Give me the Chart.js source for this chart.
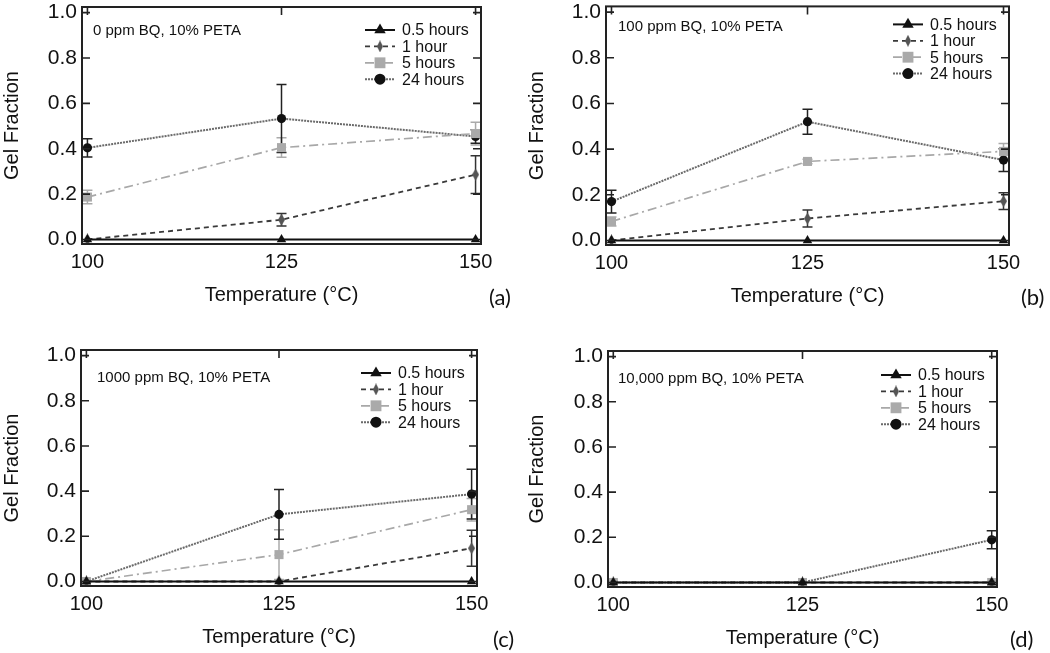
<!DOCTYPE html>
<html>
<head>
<meta charset="utf-8">
<script src="https://cdn.jsdelivr.net/npm/chart.js@4.4.1/dist/chart.umd.min.js"></script>
<style>
  body { margin: 0; background: #fff; width: 1050px; height: 653px; overflow: hidden; position: relative; }
  canvas { position: absolute; }
  .tag { position: absolute; font-family: Lato, 'Open Sans', sans-serif; font-size: 22px; line-height: 1; color: #111; }
</style>
</head>
<body>
<canvas id="pa" width="525" height="345" style="left:0;top:0"></canvas>
<canvas id="pb" width="525" height="345" style="left:525px;top:0"></canvas>
<canvas id="pc" width="525" height="345" style="left:0;top:326px"></canvas>
<canvas id="pd" width="525" height="345" style="left:525px;top:326px"></canvas>
<div class="tag" style="left:489px;top:286px">(a)</div>
<div class="tag" style="left:1021px;top:286px">(b)</div>
<div class="tag" style="left:493px;top:628px">(c)</div>
<div class="tag" style="left:1010px;top:628px">(d)</div>
<script>
// x values and labels
const temps = [100, 125, 150];
const yTicks = [0, 0.2, 0.4, 0.6, 0.8, 1.0];
const seriesNames = ['0.5 hours', '1 hour', '5 hours', '24 hours'];
const notes = ['0 ppm BQ, 10% PETA', '100 ppm BQ, 10% PETA', '1000 ppm BQ, 10% PETA', '10,000 ppm BQ, 10% PETA'];

// (a) 0 ppm BQ
const a05 = [0, 0, 0],             a05Err = [0, 0, 0];
const a1  = [0, 0.087, 0.286],     a1Err  = [0, 0.028, 0.083];
const a5  = [0.187, 0.405, 0.467], a5Err  = [0.03, 0.043, 0.05];
const a24 = [0.404, 0.533, 0.454], a24Err = [0.04, 0.15, 0.03];

// (b) 100 ppm BQ
const b05 = [0, 0, 0],             b05Err = [0, 0, 0];
const b1  = [0, 0.096, 0.172],     b1Err  = [0, 0.037, 0.037];
const b5  = [0.083, 0.346, 0.39],  b5Err  = [0.02, 0.01, 0.035];
const b24 = [0.17, 0.52, 0.352],   b24Err = [0.05, 0.055, 0.05];

// (c) 1000 ppm BQ
const c05 = [0, 0, 0],             c05Err = [0, 0, 0];
const c1  = [0, 0, 0.147],         c1Err  = [0, 0, 0.08];
const c5  = [0, 0.119, 0.318],     c5Err  = [0, 0.11, 0.05];
const c24 = [0, 0.297, 0.387],     c24Err = [0, 0.11, 0.11];

// (d) 10,000 ppm BQ
const d05 = [0, 0, 0],             d05Err = [0, 0, 0];
const d1  = [0, 0, 0],             d1Err  = [0, 0, 0];
const d5  = [0, 0, 0],             d5Err  = [0, 0, 0];
const d24 = [0, 0, 0.189],         d24Err = [0, 0, 0.04];

Chart.defaults.font.family = "'Liberation Sans', Arial, sans-serif";
Chart.defaults.color = '#111';

// narrow diamond marker for the 1 hour series
function makeDiamond(w, h) {
  const c = document.createElement('canvas');
  c.width = w; c.height = h;
  const g = c.getContext('2d');
  g.fillStyle = '#555';
  g.beginPath();
  g.moveTo(w / 2, 0); g.lineTo(w, h / 2); g.lineTo(w / 2, h); g.lineTo(0, h / 2);
  g.closePath(); g.fill();
  return c;
}
const diamond = makeDiamond(7, 12);
const diamondBig = makeDiamond(6, 12);

const styles = [
  { line: '#111', dash: [], width: 2, point: 'triangle', r: 5.5, fill: '#111', err: '#111' },
  { line: '#3a3a3a', dash: [5, 4], width: 1.8, point: diamond, legPoint: diamondBig, r: 5, fill: '#555', err: '#333' },
  { line: '#a8a8a8', dash: [9, 4, 2, 4], width: 1.7, point: 'rect', r: 6.4, fill: '#aaa', err: '#aaa' },
  { line: '#6a6a6a', dash: [2, 1], width: 2, point: 'circle', r: 4.6, fill: '#111', err: '#222' }
];

const errorBars = {
  id: 'errorBars',
  beforeDatasetsDraw(chart) {
    const ctx = chart.ctx, xs = chart.scales.x, ys = chart.scales.y;
    chart.data.datasets.forEach((ds) => {
      ctx.save();
      ctx.strokeStyle = ds.errColor;
      ctx.lineWidth = 1.5;
      ds.data.forEach((p, j) => {
        const e = ds.errors[j];
        if (!e) return;
        const x = xs.getPixelForValue(p.x);
        const y1 = ys.getPixelForValue(p.y + e), y2 = ys.getPixelForValue(p.y - e);
        ctx.beginPath();
        ctx.moveTo(x, y1); ctx.lineTo(x, y2);
        ctx.moveTo(x - 5, y1); ctx.lineTo(x + 5, y1);
        ctx.moveTo(x - 5, y2); ctx.lineTo(x + 5, y2);
        ctx.stroke();
      });
      ctx.restore();
    });
  }
};

const annot = {
  id: 'annot',
  afterDraw(chart, args, opts) {
    const ctx = chart.ctx, a = chart.chartArea, xs = chart.scales.x, ys = chart.scales.y;
    ctx.save();
    // frame
    ctx.strokeStyle = '#222';
    ctx.lineWidth = 2;
    ctx.strokeRect(a.left, a.top, a.right - a.left, a.bottom - a.top);
    // inward ticks
    ctx.beginPath();
    yTicks.forEach(v => {
      const y = ys.getPixelForValue(v);
      ctx.moveTo(a.left, y); ctx.lineTo(a.left + 8, y);
      ctx.moveTo(a.right, y); ctx.lineTo(a.right - 8, y);
    });
    temps.forEach(v => {
      const x = xs.getPixelForValue(v);
      ctx.moveTo(x, a.top); ctx.lineTo(x, a.top + 8);
    });
    ctx.lineWidth = 1.6;
    ctx.stroke();

    // note text
    ctx.fillStyle = '#111';
    ctx.font = "15px 'Liberation Sans', Arial, sans-serif";
    ctx.textBaseline = 'middle';
    ctx.fillText(opts.note, a.left + opts.noteX, a.top + opts.noteY);

    // legend
    ctx.font = "16px 'Liberation Sans', Arial, sans-serif";
    chart.data.datasets.forEach((ds, k) => {
      const y = a.top + opts.legendTop + k * 16.4;
      const x0 = a.right - 116;
      ctx.save();
      ctx.strokeStyle = ds.borderColor;
      ctx.lineWidth = ds.borderWidth;
      ctx.setLineDash(ds.borderDash);
      ctx.beginPath();
      ctx.moveTo(x0, y); ctx.lineTo(x0 + 30, y);
      ctx.stroke();
      ctx.setLineDash([]);
      ctx.fillStyle = ds.pointBackgroundColor;
      const st = styles[k];
      Chart.helpers.drawPoint(ctx, { pointStyle: st.legPoint || st.point, radius: st.r * 1.2, rotation: 0, borderWidth: 0 }, x0 + 15, y);
      ctx.restore();
      ctx.fillText(ds.label, x0 + 37, y + 1);
    });
    ctx.restore();
  }
};

function makeChart(id, area, vals, errs, opts) {
  const [L, T, R, B] = area;
  const W = 525, H = 345;
  return new Chart(document.getElementById(id), {
    type: 'line',
    data: {
      datasets: seriesNames.map((name, k) => ({
        label: name,
        data: temps.map((t, i) => ({ x: t, y: vals[k][i] })),
        errors: errs[k],
        errColor: styles[k].err,
        borderColor: styles[k].line,
        borderDash: styles[k].dash,
        borderWidth: styles[k].width,
        pointStyle: styles[k].point,
        pointRadius: styles[k].r,
        pointBackgroundColor: styles[k].fill,
        pointBorderColor: styles[k].fill,
        pointBorderWidth: 0,
        tension: 0,
        clip: false
      }))
    },
    options: {
      responsive: false,
      animation: false,
      events: [],
      layout: { padding: { left: 0, top: T, right: W - R, bottom: H - B - 80 } },
      plugins: { legend: { display: false }, tooltip: { enabled: false }, annot: opts },
      scales: {
        x: {
          type: 'linear', min: 99.3, max: 150.7,
          afterBuildTicks: s => { s.ticks = temps.map(v => ({ value: v })); },
          afterFit: s => { s.height = 80; s.paddingLeft = 0; s.paddingRight = 0; },
          grid: { display: false, drawTicks: false },
          border: { display: false },
          ticks: { padding: 6, font: { size: 20 }, color: '#111' },
          title: { display: true, text: 'Temperature (°C)', font: { size: 20 }, color: '#111', padding: { top: 0, bottom: 17 } }
        },
        y: {
          min: -0.02, max: 1.025,
          afterBuildTicks: s => { s.ticks = yTicks.map(v => ({ value: v })); },
          afterFit: s => { s.width = L; s.paddingTop = 0; s.paddingBottom = 0; },
          grid: { display: false, drawTicks: false },
          border: { display: false },
          ticks: { padding: 5, font: { size: 21 }, color: '#111', callback: v => Number(v).toFixed(1) },
          title: { display: true, text: 'Gel Fraction', font: { size: 20 }, color: '#111', padding: 0 }
        }
      }
    },
    plugins: [errorBars, annot]
  });
}

makeChart('pa', [82, 7, 481, 244], [a05, a1, a5, a24], [a05Err, a1Err, a5Err, a24Err],
  { note: notes[0], noteX: 11, noteY: 24, legendTop: 23 });
makeChart('pb', [81, 5, 484, 245], [b05, b1, b5, b24], [b05Err, b1Err, b5Err, b24Err],
  { note: notes[1], noteX: 12, noteY: 20, legendTop: 18 });
makeChart('pc', [81, 24, 477, 260], [c05, c1, c5, c24], [c05Err, c1Err, c5Err, c24Err],
  { note: notes[2], noteX: 16, noteY: 28, legendTop: 23 });
makeChart('pd', [83, 25, 472, 261], [d05, d1, d5, d24], [d05Err, d1Err, d5Err, d24Err],
  { note: notes[3], noteX: 10, noteY: 28, legendTop: 24 });
</script>
</body>
</html>
